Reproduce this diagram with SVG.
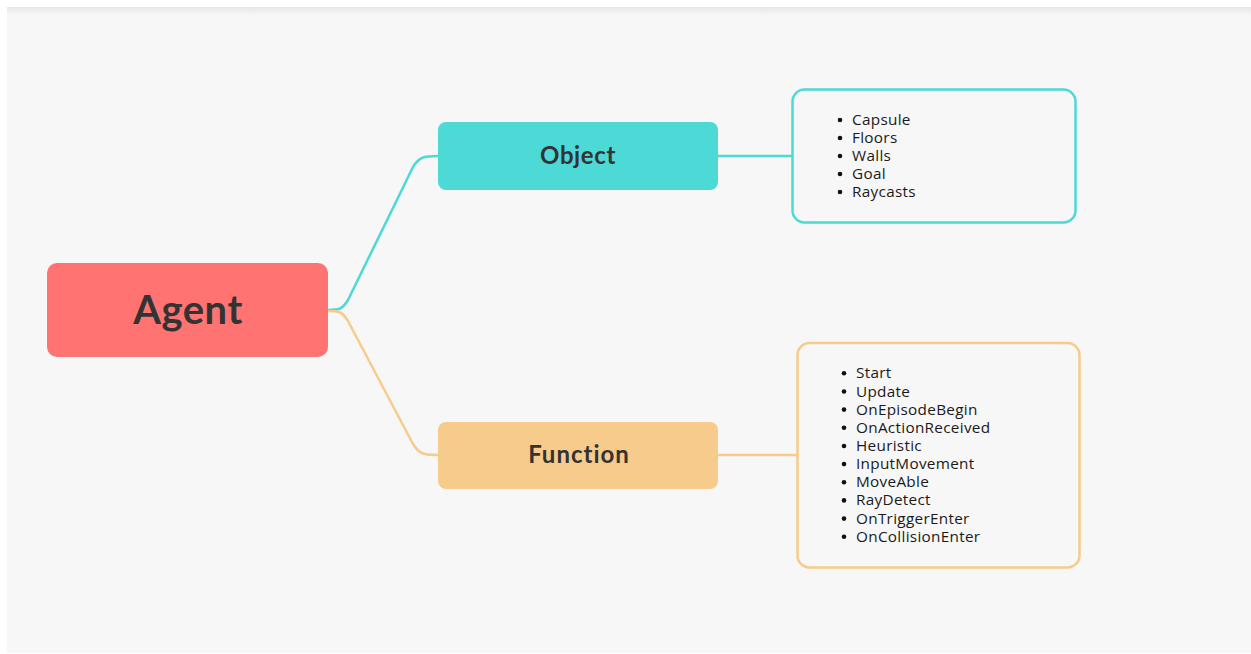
<svg xmlns="http://www.w3.org/2000/svg" width="1251" height="654" viewBox="0 0 1251 654">
<defs>
<linearGradient id="shadow" x1="0" y1="0" x2="0" y2="1">
<stop offset="0" stop-color="#e6e6e6"/>
<stop offset="1" stop-color="#f7f7f7"/>
</linearGradient>
<style>
.bg{fill:#f7f7f7}
.title{font-family:Lato,"Open Sans",sans-serif;font-weight:bold;fill:#333333;text-anchor:middle}
.list{font-family:"Open Sans","Noto Sans",sans-serif;font-size:15.3px;letter-spacing:0.3px;fill:#1a1a1a}
.conn{fill:none;stroke-width:2.5}
.cyan{stroke:#4dd9d6}
.orange{stroke:#f7cb8c}
</style>
</defs>
<rect x="0" y="0" width="1251" height="654" fill="#ffffff"/>
<rect class="bg" x="7" y="7" width="1244" height="646"/>
<rect x="7" y="7" width="1244" height="8" fill="url(#shadow)"/>
<g id="connectors">
<path class="conn cyan" d="M328,310 C338,310 342,310 348,300 L413,167 C419,157 424,156 438,156"/>
<path class="conn orange" d="M328,311 C338,311 342,311 348,321 L413,444 C419,454 424,455 438,455"/>
<path class="conn cyan" d="M718,156 L792,156"/>
<path class="conn orange" d="M718,455 L797,455"/>
</g>
<g id="agent">
<rect x="47" y="263" width="281" height="94" rx="10" fill="#ff7373"/>
<text class="title" x="188" y="324" font-size="40" letter-spacing="0.5">Agent</text>
</g>
<g id="object">
<rect x="438" y="122" width="280" height="68" rx="8" fill="#4dd9d6"/>
<text class="title" x="578" y="164" font-size="24" letter-spacing="0.6">Object</text>
</g>
<g id="function">
<rect x="438" y="422" width="280" height="67" rx="8" fill="#f7cb8c"/>
<text class="title" x="579" y="463" font-size="24" letter-spacing="1">Function</text>
</g>
<g id="object-list">
<rect x="792.5" y="89.5" width="283" height="133" rx="12" fill="#f7f7f7" stroke="#4dd9d6" stroke-width="2.5"/>
<g class="list">
<circle cx="840" cy="120" r="2.3" fill="#111"/><text x="852" y="125">Capsule</text>
<circle cx="840" cy="138" r="2.3" fill="#111"/><text x="852" y="143">Floors</text>
<circle cx="840" cy="156" r="2.3" fill="#111"/><text x="852" y="161">Walls</text>
<circle cx="840" cy="174" r="2.3" fill="#111"/><text x="852" y="179">Goal</text>
<circle cx="840" cy="192" r="2.3" fill="#111"/><text x="852" y="197">Raycasts</text>
</g>
</g>
<g id="function-list">
<rect x="797.5" y="343" width="282" height="224.5" rx="12" fill="#f7f7f7" stroke="#f7cb8c" stroke-width="2.5"/>
<g class="list">
<circle cx="844" cy="373.3" r="2.3" fill="#111"/><text x="856" y="378.3">Start</text>
<circle cx="844" cy="391.5" r="2.3" fill="#111"/><text x="856" y="396.5">Update</text>
<circle cx="844" cy="409.6" r="2.3" fill="#111"/><text x="856" y="414.6">OnEpisodeBegin</text>
<circle cx="844" cy="427.8" r="2.3" fill="#111"/><text x="856" y="432.8">OnActionReceived</text>
<circle cx="844" cy="446" r="2.3" fill="#111"/><text x="856" y="451">Heuristic</text>
<circle cx="844" cy="464.1" r="2.3" fill="#111"/><text x="856" y="469.1">InputMovement</text>
<circle cx="844" cy="482.3" r="2.3" fill="#111"/><text x="856" y="487.3">MoveAble</text>
<circle cx="844" cy="500.4" r="2.3" fill="#111"/><text x="856" y="505.4">RayDetect</text>
<circle cx="844" cy="518.6" r="2.3" fill="#111"/><text x="856" y="523.6">OnTriggerEnter</text>
<circle cx="844" cy="536.7" r="2.3" fill="#111"/><text x="856" y="541.7">OnCollisionEnter</text>
</g>
</g>
</svg>
